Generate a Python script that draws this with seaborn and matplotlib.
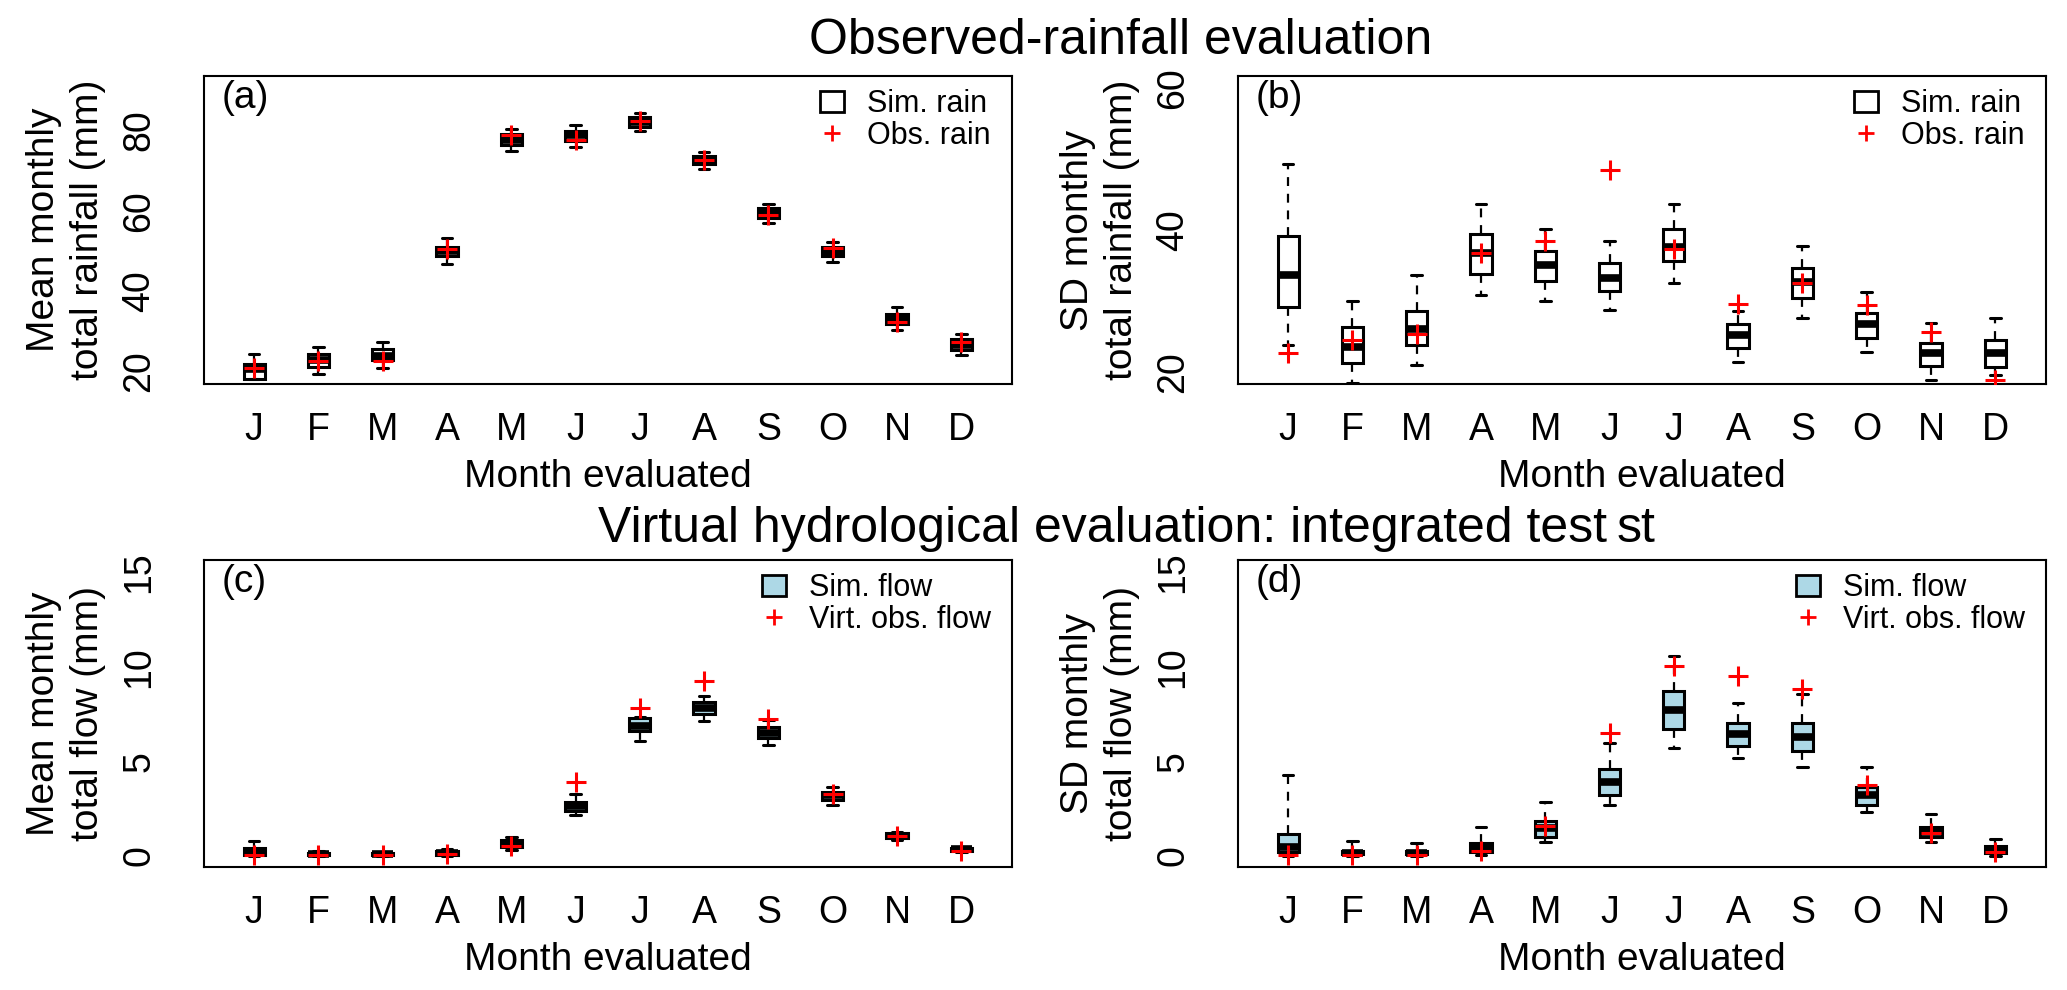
import numpy as np
import pandas as pd
import matplotlib
matplotlib.use('Agg')
import matplotlib.pyplot as plt
from matplotlib.patches import Patch
from matplotlib.lines import Line2D
import seaborn as sns

sns.set_style('white')
plt.rcParams['font.family'] = ['Liberation Sans', 'DejaVu Sans']
plt.rcParams['axes.linewidth'] = 1.5
plt.rcParams['axes.edgecolor'] = 'black'
plt.rcParams['text.color'] = 'black'
plt.rcParams['axes.labelcolor'] = 'black'
plt.rcParams['xtick.color'] = 'black'
plt.rcParams['ytick.color'] = 'black'

months = ['Jan', 'Feb', 'Mar', 'Apr', 'May', 'Jun',
          'Jul', 'Aug', 'Sep', 'Oct', 'Nov', 'Dec']
month_letters = ['J', 'F', 'M', 'A', 'M', 'J', 'J', 'A', 'S', 'O', 'N', 'D']

# (a) mean monthly total rainfall: simulated box stats and observed value
a_lo = [18.0, 19.2, 20.8, 46.7, 74.9, 75.9, 79.9, 70.5, 57.0, 47.3, 30.3, 24.1]
a_q1 = [18.1, 21.1, 22.7, 48.6, 76.3, 77.5, 81.0, 71.7, 58.3, 48.6, 31.8, 25.4]
a_med = [20.6, 22.7, 23.9, 50.0, 77.7, 78.8, 82.2, 72.7, 59.6, 49.8, 33.1, 26.6]
a_q3 = [21.8, 24.3, 25.5, 51.0, 79.2, 80.0, 83.3, 73.7, 60.6, 50.9, 34.3, 27.9]
a_hi = [24.3, 26.0, 27.3, 53.1, 80.4, 81.4, 84.4, 74.6, 61.8, 52.3, 36.0, 29.3]
a_obs = [20.8, 22.5, 22.6, 50.5, 78.8, 77.7, 82.3, 72.7, 58.9, 50.6, 32.2, 27.2]

# (b) SD of monthly total rainfall
b_lo = [23.8, 18.4, 21.0, 30.8, 30.0, 28.7, 32.5, 21.4, 27.6, 22.8, 18.9, 19.5]
b_q1 = [29.1, 21.3, 23.8, 33.8, 32.8, 31.4, 35.6, 23.4, 30.4, 24.8, 20.9, 20.7]
b_med = [33.6, 23.5, 26.1, 36.7, 35.0, 33.3, 37.6, 25.2, 32.7, 26.7, 22.6, 22.6]
b_q3 = [39.2, 26.3, 28.6, 39.5, 37.1, 35.3, 40.2, 26.7, 34.7, 28.3, 24.1, 24.5]
b_hi = [49.3, 30.0, 33.6, 43.7, 40.1, 38.5, 43.7, 28.6, 37.8, 31.2, 26.9, 27.6]
b_obs = [22.7, 24.5, 25.3, 36.8, 38.5, 48.5, 37.3, 29.6, 32.6, 29.4, 25.6, 18.8]

# (c) mean monthly total flow
c_lo = [0.0, 0.0, 0.0, 0.0, 0.32, 2.16, 6.08, 7.13, 5.86, 2.69, 0.84, 0.23]
c_q1 = [0.05, 0.04, 0.04, 0.05, 0.49, 2.37, 6.60, 7.50, 6.23, 2.95, 0.93, 0.28]
c_med = [0.23, 0.10, 0.10, 0.18, 0.67, 2.64, 6.87, 7.80, 6.50, 3.22, 1.07, 0.37]
c_q3 = [0.40, 0.18, 0.18, 0.28, 0.84, 2.87, 7.29, 8.13, 6.81, 3.39, 1.20, 0.44]
c_hi = [0.79, 0.28, 0.22, 0.37, 1.02, 3.25, 7.35, 8.45, 7.18, 3.66, 1.28, 0.49]
c_obs = [0.08, 0.05, 0.05, 0.10, 0.53, 3.89, 7.82, 9.24, 7.24, 3.25, 1.05, 0.28]

# (d) SD of monthly total flow
d_lo = [0.0, 0.0, 0.0, 0.05, 0.76, 2.69, 5.71, 5.20, 4.68, 2.30, 0.72, 0.0]
d_q1 = [0.23, 0.09, 0.09, 0.19, 0.98, 3.22, 6.73, 5.82, 5.56, 2.69, 0.98, 0.18]
d_med = [0.49, 0.18, 0.18, 0.40, 1.46, 3.92, 7.70, 6.42, 6.30, 3.22, 1.28, 0.35]
d_q3 = [1.14, 0.28, 0.28, 0.67, 1.85, 4.60, 8.72, 7.03, 7.03, 3.66, 1.55, 0.53]
d_hi = [4.27, 0.79, 0.67, 1.55, 2.87, 5.98, 10.57, 8.09, 8.58, 4.68, 2.22, 0.90]
d_obs = [0.05, 0.05, 0.05, 0.28, 1.60, 6.51, 10.04, 9.50, 8.84, 3.75, 1.20, 0.19]

rain_ticks_a = [20, 30, 40, 50, 60, 70, 80, 90]
rain_ticks_b = [20, 30, 40, 50, 60]
flow_ticks = [0, 5, 10, 15]

W, H = 2067, 990
fig = plt.figure(figsize=(W / 100, H / 100), dpi=100)


def sim_frame(lo, q1, med, q3, hi):
    # five values per month give exactly these quartiles / extremes
    rows = []
    for m, vals in zip(months, zip(lo, q1, med, q3, hi)):
        for v in vals:
            rows.append((m, v))
    return pd.DataFrame(rows, columns=['month', 'value'])


def panel(box, df, obs, fill, ylim, yticks, letter, ylab, sim_label, obs_label):
    left, top, right, bottom = box
    ax = fig.add_axes([left / W, 1 - bottom / H, (right - left) / W, (bottom - top) / H])
    sns.boxplot(data=df, x='month', y='value', order=months, ax=ax,
                color=fill, saturation=1, linecolor='black', linewidth=2.2,
                width=0.33, whis=(0, 100), showfliers=False,
                medianprops=dict(linewidth=5.5, solid_capstyle='butt'),
                whiskerprops=dict(linestyle=(0, (4, 3.5)), linewidth=1.6),
                capprops=dict(linewidth=2.2))
    sns.scatterplot(x=months, y=obs, ax=ax, marker='+', color='red',
                    s=190, linewidth=2.2, zorder=5)

    ax.set_xlim(-0.78, 11.79)
    ax.set_ylim(*ylim)
    ax.set_xticks(range(12))
    ax.set_xticklabels(month_letters)
    ax.set_yticks(yticks)
    step = 20 if yticks[-1] > 20 else 5
    ax.set_yticklabels([str(t) if t % step == 0 else '' for t in yticks])
    ax.set_xlabel('')
    ax.set_ylabel('')
    ax.tick_params(axis='both', direction='out', length=18.5, width=1.5, color='black')
    ax.tick_params(axis='x', labelsize=27, pad=2)
    ax.tick_params(axis='y', labelsize=27, pad=15, labelrotation=90)
    for lbl in ax.get_yticklabels():
        lbl.set_va('center')
    for sp in ax.spines.values():
        sp.set_visible(True)
        sp.set_color('black')
        sp.set_linewidth(1.5)

    ax.annotate(letter, xy=(0, 1), xycoords='axes fraction', xytext=(18, -4),
                textcoords='offset pixels', ha='left', va='top', fontsize=28)

    handles = [Patch(facecolor=fill, edgecolor='black', linewidth=2),
               Line2D([], [], marker='+', color='red', linestyle='none',
                      markersize=11, mew=2)]
    ax.legend(handles=handles, labels=[sim_label, obs_label], loc='upper right',
              bbox_to_anchor=(1 - 21 / (right - left), 1 - 13 / (bottom - top)),
              frameon=False, fontsize=22, handlelength=0.8, handleheight=0.7,
              handletextpad=0.75, labelspacing=0.05, borderaxespad=0, borderpad=0)

    fig.text((left - 138) / W, 1 - (top + bottom) / 2 / H, ylab, rotation=90,
             ha='center', va='center', linespacing=1.3, fontsize=28)
    fig.text((left + right) / 2 / W, 1 - (bottom + 103) / H, 'Month evaluated',
             ha='center', va='baseline', fontsize=28)
    return ax


panel((204, 76, 1012, 384), sim_frame(a_lo, a_q1, a_med, a_q3, a_hi), a_obs, 'white',
      (16.8, 93.6), rain_ticks_a, '(a)', 'Mean monthly\ntotal rainfall (mm)',
      'Sim. rain', 'Obs. rain')
panel((1238, 76, 2046, 384), sim_frame(b_lo, b_q1, b_med, b_q3, b_hi), b_obs, 'white',
      (18.3, 61.7), rain_ticks_b, '(b)', 'SD monthly\ntotal rainfall (mm)',
      'Sim. rain', 'Obs. rain')
panel((204, 560, 1012, 867), sim_frame(c_lo, c_q1, c_med, c_q3, c_hi), c_obs, 'lightblue',
      (-0.58, 15.63), flow_ticks, '(c)', 'Mean monthly\ntotal flow (mm)',
      'Sim. flow', 'Virt. obs. flow')
panel((1238, 560, 2046, 867), sim_frame(d_lo, d_q1, d_med, d_q3, d_hi), d_obs, 'lightblue',
      (-0.58, 15.63), flow_ticks, '(d)', 'SD monthly\ntotal flow (mm)',
      'Sim. flow', 'Virt. obs. flow')

fig.text(1432 / W, 1 - 54 / H, 'Observed-rainfall evaluation',
         ha='right', va='baseline', fontsize=36)
fig.text(1607 / W, 1 - 542 / H, 'Virtual hydrological evaluation: integrated test',
         ha='right', va='baseline', fontsize=36)
fig.text(1617 / W, 1 - 542 / H, 'st', ha='left', va='baseline', fontsize=36)

fig.savefig('out.png', dpi=100)
